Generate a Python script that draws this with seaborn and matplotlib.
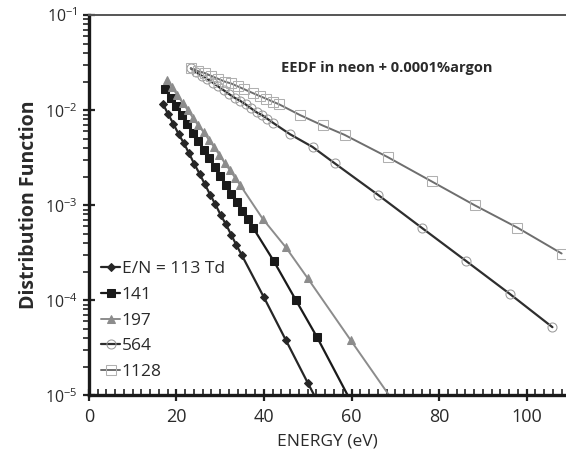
import matplotlib
matplotlib.use("Agg")
from matplotlib import pyplot as plt
from matplotlib.ticker import MultipleLocator, LogLocator, NullFormatter
import seaborn as sns
import pandas as pd

# EEDF in neon + trace argon
e_113 = [16.9, 18.1, 19.3, 20.5, 21.7, 22.9, 24.1, 25.3, 26.5, 27.7, 28.9, 30.1, 31.3, 32.5, 33.7, 34.9, 40.0, 45.0, 50.0, 55.0]
f_113 = [0.0117, 0.0091, 0.0072, 0.0056, 0.0045, 0.0035, 0.0027, 0.00214, 0.00166, 0.00129, 0.00102, 0.00079,
         0.00063, 0.00049, 0.00038, 0.0003, 0.000107, 3.8e-5, 1.35e-5, 4.9e-6]

e_141 = [17.5, 18.8, 20.0, 21.3, 22.5, 23.8, 25.0, 26.3, 27.5, 28.8, 30.0, 31.3, 32.5, 33.8, 35.0, 36.3, 37.5, 42.2, 47.3, 52.1, 62.0]
f_141 = [0.0166, 0.0135, 0.0110, 0.0089, 0.0072, 0.0058, 0.0047, 0.0038, 0.0031, 0.0025, 0.00204, 0.00162,
         0.00132, 0.00107, 0.00087, 0.00071, 0.00058, 0.00026, 0.00010, 4.1e-5, 5.6e-6]

e_197 = [17.8, 19.0, 20.2, 21.4, 22.6, 23.8, 25.0, 26.2, 27.4, 28.6, 29.8, 31.0, 32.2, 33.4, 34.6, 39.7, 45.0, 50.0, 59.8, 69.8]
f_197 = [0.0209, 0.0174, 0.0145, 0.0120, 0.0100, 0.0083, 0.0069, 0.0059, 0.0049, 0.0041, 0.0034, 0.0028,
         0.00234, 0.00195, 0.00162, 0.00072, 0.00036, 0.00017, 3.8e-5, 8.3e-6]

e_564 = [23.3, 24.5, 25.8, 27.0, 28.3, 29.5, 30.8, 32.0, 33.3, 34.5, 35.8, 37.0, 38.3, 39.5, 40.8, 42.0,
         45.9, 51.1, 56.2, 66.0, 76.0, 86.1, 96.1, 105.9]
f_564 = [0.0275, 0.0251, 0.0229, 0.0214, 0.0195, 0.0178, 0.0162, 0.0148, 0.0135, 0.0126, 0.0115, 0.0105,
         0.0095, 0.0089, 0.0081, 0.0074, 0.0056, 0.0041, 0.00275, 0.00129, 0.00058, 0.00026, 0.000117, 5.2e-5]

e_1128 = [23.3, 25.0, 26.5, 28.0, 29.5, 31.0, 32.5, 34.0, 35.5, 37.5, 39.0, 40.5, 42.0, 43.5,
          48.2, 53.4, 58.4, 68.3, 78.3, 88.1, 97.9, 108.0]
f_1128 = [0.0275, 0.0257, 0.0245, 0.0229, 0.0214, 0.0200, 0.0191, 0.0178, 0.0166, 0.0151, 0.0141, 0.0132,
          0.0123, 0.0115, 0.0089, 0.0069, 0.0055, 0.0032, 0.00178, 0.0010, 0.00058, 0.00031]

labels = ["E/N = 113 Td", "141", "197", "564", "1128"]

sns.set_style("white")
plt.rcParams["font.family"] = ["Open Sans", "DejaVu Sans"]

fig = plt.figure(figsize=(5.66, 4.59), dpi=100)
ax = fig.add_axes([0.157, 0.139, 0.843, 0.828])

series = [
    (e_113, f_113, dict(color="#262626", marker="D", markersize=4.5, markerfacecolor="#262626",
                        markeredgecolor="#262626", linewidth=1.6)),
    (e_141, f_141, dict(color="#1a1a1a", marker="s", markersize=6, markerfacecolor="#1a1a1a",
                        markeredgecolor="#1a1a1a", linewidth=1.6)),
    (e_197, f_197, dict(color="#8c8c8c", marker="^", markersize=5.5, markerfacecolor="#8c8c8c",
                        markeredgecolor="#8c8c8c", linewidth=1.4)),
    (e_564, f_564, dict(color="#2e2e2e", marker="o", markersize=6.5, markerfacecolor="none",
                        markeredgecolor="#9a9a9a", linewidth=1.6)),
    (e_1128, f_1128, dict(color="#6e6e6e", marker="s", markersize=6.5, markerfacecolor="none",
                          markeredgecolor="#b0b0b0", linewidth=1.4)),
]

for (e, f, style), lab in zip(series, labels):
    df = pd.DataFrame({"E": e, "f": f})
    sns.lineplot(data=df, x="E", y="f", ax=ax, sort=False, estimator=None, label=lab, **style)

ax.set_yscale("log")
ax.set_xlim(0, 109)
ax.set_ylim(1e-5, 1e-1)

ax.xaxis.set_major_locator(MultipleLocator(20))
ax.xaxis.set_minor_locator(MultipleLocator(2))
ax.yaxis.set_major_locator(LogLocator(base=10, numticks=10))
ax.yaxis.set_minor_locator(LogLocator(base=10, subs=range(2, 10), numticks=20))
ax.yaxis.set_minor_formatter(NullFormatter())

ax.tick_params(axis="x", which="major", direction="inout", length=9, width=1.6, color="#222222",
               labelsize=13, labelcolor="#2a2a2a", pad=5, bottom=True)
ax.tick_params(axis="x", which="minor", direction="in", length=4, width=1.2, color="#222222", bottom=True)
ax.tick_params(axis="y", which="major", direction="inout", length=9, width=1.6, color="#222222",
               labelsize=11.5, labelcolor="#2a2a2a", left=True)
ax.tick_params(axis="y", which="minor", direction="out", length=4, width=1.2, color="#222222", left=True)

for side in ["left", "bottom"]:
    ax.spines[side].set_color("#1a1a1a")
    ax.spines[side].set_linewidth(2.4)
ax.spines["top"].set_color("#555555")
ax.spines["top"].set_linewidth(1.4)
ax.spines["right"].set_visible(False)

ax.set_xlabel("ENERGY (eV)", fontsize=12.5, color="#2a2a2a", labelpad=5)
ax.set_ylabel("Distribution Function", fontsize=14, fontweight="bold", color="#2a2a2a", labelpad=4)

ax.text(0.625, 0.862, "EEDF in neon + 0.0001%argon", transform=ax.transAxes, ha="center", va="center",
        fontsize=10.5, fontweight="bold", color="#2a2a2a")

ax.legend(loc="upper left", bbox_to_anchor=(0.0, 0.385), frameon=False, fontsize=12.5,
          handlelength=1.1, handletextpad=0.1, labelspacing=0.55, borderaxespad=0.3,
          labelcolor="#2a2a2a")

fig.savefig("out.png", dpi=100)
